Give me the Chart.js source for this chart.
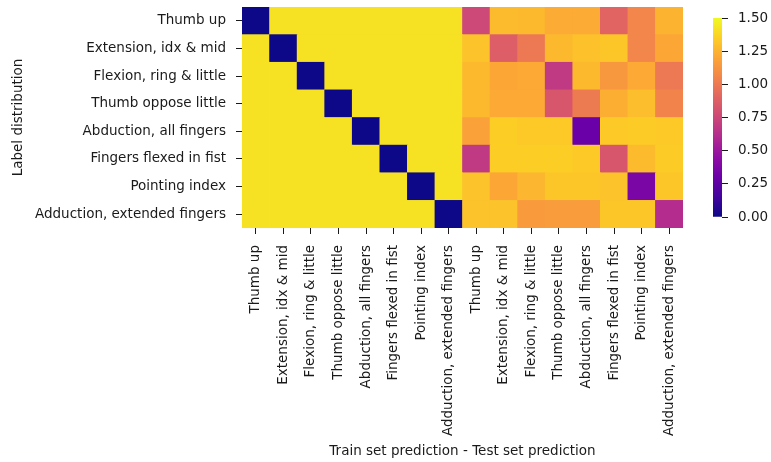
<!DOCTYPE html>
<html>
<head>
<meta charset="utf-8">
<script src="https://cdn.jsdelivr.net/npm/chart.js@4.4.1/dist/chart.umd.min.js"></script>
<style>
  body { margin: 0; background: #fff; }
  #wrap { position: relative; width: 771px; height: 462px; }
  canvas { position: absolute; left: 0; top: 0; }
  #bar { pointer-events: none; }
</style>
</head>
<body>
<div id="wrap">
  <canvas id="heat" width="771" height="462"></canvas>
  <canvas id="bar" width="771" height="462"></canvas>
</div>
<script>
// gesture names, used for rows and for both column blocks
const gestures = [
  "Thumb up",
  "Extension, idx & mid",
  "Flexion, ring & little",
  "Thumb oppose little",
  "Abduction, all fingers",
  "Fingers flexed in fist",
  "Pointing index",
  "Adduction, extended fingers"
];
const columnLabels = gestures.concat(gestures);

// left block: train set prediction
const trainValues = [
  [0.00, 1.42, 1.42, 1.42, 1.42, 1.42, 1.42, 1.42],
  [1.42, 0.00, 1.42, 1.42, 1.42, 1.42, 1.42, 1.42],
  [1.42, 1.42, 0.00, 1.42, 1.42, 1.42, 1.42, 1.42],
  [1.42, 1.42, 1.42, 0.00, 1.42, 1.42, 1.42, 1.42],
  [1.42, 1.42, 1.42, 1.42, 0.00, 1.42, 1.42, 1.42],
  [1.42, 1.42, 1.42, 1.42, 1.42, 0.00, 1.42, 1.42],
  [1.42, 1.42, 1.42, 1.42, 1.42, 1.42, 0.00, 1.42],
  [1.42, 1.42, 1.42, 1.42, 1.42, 1.42, 1.42, 0.00]
];

// right block: test set prediction
const testValues = [
  [0.76, 1.28, 1.27, 1.22, 1.22, 0.90, 1.06, 1.25],
  [1.31, 0.87, 1.00, 1.27, 1.30, 1.32, 1.06, 1.20],
  [1.27, 1.20, 1.21, 0.68, 1.27, 1.14, 1.21, 1.00],
  [1.27, 1.21, 1.21, 0.83, 1.01, 1.23, 1.29, 1.05],
  [1.18, 1.35, 1.33, 1.33, 0.30, 1.33, 1.34, 1.33],
  [0.68, 1.35, 1.35, 1.35, 1.33, 0.83, 1.28, 1.34],
  [1.31, 1.20, 1.26, 1.32, 1.32, 1.31, 0.37, 1.32],
  [1.31, 1.31, 1.15, 1.16, 1.16, 1.32, 1.32, 0.61]
];

const colorbarTicks = [0, 0.25, 0.5, 0.75, 1.0, 1.25, 1.5];
const vmin = 0, vmax = 1.5;

// plasma colormap stops
const plasma = [
  [13, 8, 135], [65, 4, 157], [106, 0, 168], [143, 13, 164],
  [177, 42, 144], [204, 71, 120], [225, 100, 98], [242, 132, 75],
  [252, 166, 54], [252, 206, 37], [240, 249, 33]
];

function plasmaColor(v) {
  let t = (v - vmin) / (vmax - vmin);
  t = Math.max(0, Math.min(1, t)) * (plasma.length - 1);
  const i = Math.min(Math.floor(t), plasma.length - 2);
  const f = t - i;
  const a = plasma[i], b = plasma[i + 1];
  const c = a.map((x, k) => Math.round(x + (b[k] - x) * f));
  return `rgb(${c[0]},${c[1]},${c[2]})`;
}

Chart.defaults.font.family = "DejaVu Sans";
Chart.defaults.font.size = 13.5;
Chart.defaults.color = "#1a1a1a";
Chart.defaults.animation = false;

// one stacked dataset per row, bottom row first
const datasets = [];
for (let r = gestures.length - 1; r >= 0; r--) {
  const rowValues = trainValues[r].concat(testValues[r]);
  datasets.push({
    label: gestures[r],
    data: rowValues.map(() => 1),
    backgroundColor: rowValues.map(plasmaColor),
    borderWidth: 0,
    barPercentage: 1,
    categoryPercentage: 1,
    stack: "cells"
  });
}

const tickGrid = {
  display: true,
  drawOnChartArea: false,
  drawTicks: true,
  tickLength: 6,
  tickColor: "#1a1a1a",
  lineWidth: 1,
  offset: false
};

// keep the plot area where the layout padding puts it
function noScalePadding(scale) {
  scale.paddingTop = 0;
  scale.paddingBottom = 0;
  scale.paddingLeft = 0;
  scale.paddingRight = 0;
}

new Chart(document.getElementById("heat"), {
  type: "bar",
  data: { labels: columnLabels, datasets: datasets },
  options: {
    responsive: false,
    devicePixelRatio: 1,
    layout: { padding: { top: 7, right: 88, left: 0, bottom: 0 } },
    plugins: { legend: { display: false }, tooltip: { enabled: false } },
    scales: {
      x: {
        stacked: true,
        grid: tickGrid,
        border: { display: false },
        ticks: { autoSkip: false, minRotation: 90, maxRotation: 90, padding: 11 },
        title: { display: true, text: "Train set prediction - Test set prediction", padding: { top: 4, bottom: 2 } },
        afterFit: (scale) => { scale.height = 234; noScalePadding(scale); }
      },
      y: {
        stacked: true,
        min: 0,
        max: gestures.length,
        grid: tickGrid,
        border: { display: false },
        afterBuildTicks: (scale) => {
          scale.ticks = gestures.map((g, i) => ({ value: gestures.length - 0.5 - i }));
        },
        ticks: {
          autoSkip: false,
          padding: 10,
          callback: (v) => gestures[gestures.length - 1 - Math.floor(v)]
        },
        title: { display: true, text: "Label distribution", padding: { top: 10, bottom: 4 } },
        afterFit: (scale) => { scale.width = 242; noScalePadding(scale); }
      }
    }
  }
});

// colour bar
new Chart(document.getElementById("bar"), {
  type: "bar",
  data: {
    labels: ["scale"],
    datasets: [{
      data: [vmax],
      borderWidth: 0,
      barPercentage: 1,
      categoryPercentage: 1,
      backgroundColor: (ctx) => {
        const area = ctx.chart.chartArea;
        if (!area) return plasmaColor(vmax);
        const g = ctx.chart.ctx.createLinearGradient(0, area.bottom, 0, area.top);
        plasma.forEach((c, i) => g.addColorStop(i / (plasma.length - 1), `rgb(${c[0]},${c[1]},${c[2]})`));
        return g;
      }
    }]
  },
  options: {
    responsive: false,
    devicePixelRatio: 1,
    layout: { padding: { top: 18, left: 713, right: 0, bottom: 245 } },
    plugins: { legend: { display: false }, tooltip: { enabled: false } },
    scales: {
      x: { display: false },
      y: {
        position: "right",
        min: vmin,
        max: vmax,
        grid: tickGrid,
        border: { display: false },
        afterBuildTicks: (scale) => { scale.ticks = colorbarTicks.map(v => ({ value: v })); },
        ticks: { padding: 10, callback: (v) => v.toFixed(2) },
        afterFit: (scale) => { scale.width = 49; noScalePadding(scale); }
      }
    }
  }
});
</script>
</body>
</html>
